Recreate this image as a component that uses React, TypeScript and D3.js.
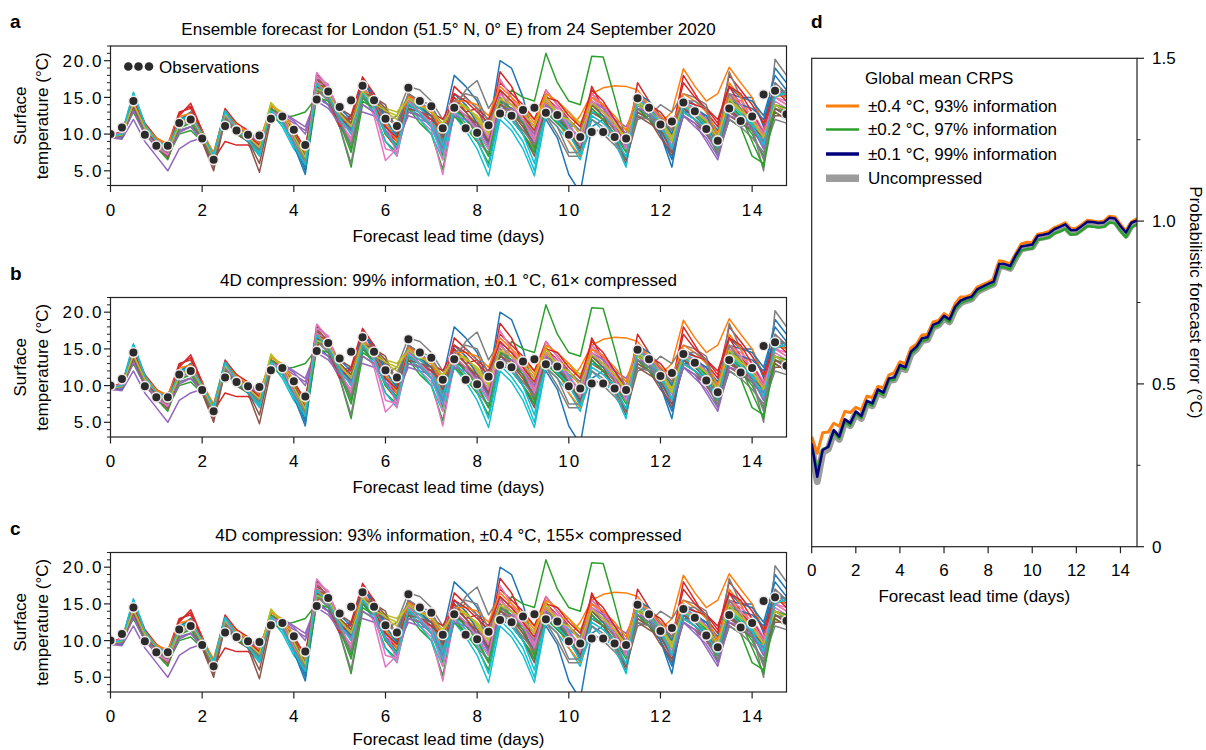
import React from 'react'
import * as d3 from 'd3'

// lead times, 6-hourly
const LEAD = d3.range(60).map(i => i * 0.25)

// London observations (°C)
const OBS = [
  10.0, 10.9, 14.5, 9.9, 8.4, 8.4, 11.5, 12.0, 9.4, 6.5,
  11.1, 10.5, 9.9, 9.8, 12.1, 12.4, 10.6, 8.5, 14.7, 15.8,
  13.7, 14.6, 16.6, 14.6, 12.1, 11.1, 16.3, 14.5, 13.8, 10.8,
  13.6, 10.8, 10.2, 11.2, 12.8, 12.5, 13.3, 13.6, 12.9, 12.6,
  9.9, 9.6, 10.3, 10.3, 9.6, 9.4, 14.9, 13.6, 11.3, 11.7,
  14.3, 13.1, 10.7, 9.1, 13.5, 11.8, 12.4, 15.4, 15.9, 12.7,
]

// ensemble members (°C), one row per member
const M00 = [9.8, 10.0, 15.5, 11.0, 8.8, 8.0, 11.0, 12.5, 10.0, 7.0, 12.8, 11.0, 9.5, 8.5, 13.5, 12.0, 9.0, 5.0, 16.5, 15.5, 12.5, 10.5, 17.5, 14.5, 11.0, 10.5, 15.0, 14.0, 13.0, 11.0, 18.0, 16.5, 14.5, 10.5, 20.0, 19.0, 15.0, 9.0, 12.0, 9.5, 4.5, 2.0, 11.0, 12.0, 10.0, 8.0, 14.5, 13.0, 10.0, 5.5, 14.0, 13.5, 12.5, 10.5, 15.5, 15.0, 15.0, 11.0, 19.0, 17.0]
const M01 = [9.5, 9.8, 14.5, 11.5, 9.5, 8.5, 12.0, 13.0, 10.5, 7.0, 13.0, 11.5, 9.8, 8.0, 13.5, 12.5, 10.0, 6.0, 17.5, 16.0, 12.0, 9.0, 16.5, 14.0, 10.0, 8.5, 15.5, 13.5, 12.5, 9.5, 15.0, 13.5, 12.0, 9.0, 15.5, 14.0, 12.0, 9.5, 14.0, 12.0, 10.5, 12.5, 15.5, 16.3, 16.6, 16.5, 16.0, 14.0, 11.5, 13.0, 18.9, 16.5, 14.5, 15.5, 19.1, 17.0, 15.0, 11.5, 15.0, 14.0]
const M02 = [9.7, 10.2, 13.5, 10.5, 8.8, 7.0, 10.5, 11.0, 9.8, 6.8, 12.0, 10.0, 9.0, 8.0, 12.0, 12.2, 12.5, 13.0, 15.0, 14.0, 11.0, 5.5, 14.0, 13.0, 9.0, 7.5, 13.5, 11.5, 10.0, 5.2, 13.0, 11.0, 9.0, 7.5, 12.0, 16.0, 15.0, 14.5, 21.0, 17.0, 14.5, 14.0, 20.6, 20.5, 15.0, 9.0, 13.5, 12.0, 10.5, 9.0, 13.0, 12.0, 10.0, 8.0, 13.0, 12.0, 10.0, 7.0, 13.0, 12.0]
const M03 = [9.9, 10.0, 14.0, 11.0, 9.0, 8.0, 12.5, 14.2, 10.5, 6.5, 9.0, 8.5, 8.5, 7.5, 12.5, 12.0, 10.0, 7.0, 15.5, 16.0, 13.0, 11.0, 17.5, 15.0, 10.0, 8.0, 14.0, 13.5, 14.0, 10.0, 16.5, 15.0, 13.5, 10.0, 18.5, 16.5, 13.0, 11.0, 15.0, 13.5, 11.0, 9.0, 16.5, 13.5, 10.5, 8.0, 17.0, 14.5, 12.0, 10.0, 18.0, 15.5, 13.0, 11.0, 18.0, 16.0, 14.0, 11.5, 16.5, 15.0]
const M04 = [9.5, 9.3, 12.0, 9.0, 7.0, 5.0, 8.0, 9.0, 9.5, 7.0, 12.0, 10.0, 9.5, 8.5, 13.0, 13.0, 12.0, 11.0, 15.0, 14.0, 12.0, 12.5, 13.0, 12.5, 11.0, 9.0, 12.5, 12.0, 11.5, 9.0, 13.0, 12.5, 11.5, 9.5, 14.0, 13.0, 12.0, 9.0, 13.0, 11.5, 10.0, 8.5, 15.0, 14.0, 12.0, 11.0, 14.0, 13.0, 11.5, 9.5, 13.5, 12.0, 10.0, 7.5, 12.0, 11.0, 11.5, 10.0, 13.5, 12.5]
const M05 = [9.7, 9.5, 14.0, 10.5, 8.5, 7.0, 11.0, 12.0, 9.0, 5.0, 12.0, 10.0, 9.0, 4.8, 12.0, 12.0, 10.0, 7.5, 18.2, 16.5, 12.5, 11.0, 16.0, 15.0, 14.0, 10.0, 13.5, 12.5, 12.0, 8.5, 14.0, 12.0, 10.5, 8.0, 13.5, 12.0, 10.0, 7.0, 14.0, 12.0, 10.0, 7.5, 13.5, 12.0, 9.0, 6.0, 13.0, 12.0, 10.0, 7.0, 12.5, 11.5, 10.0, 8.0, 12.5, 11.5, 10.5, 8.5, 13.0, 12.0]
const M06 = [9.6, 10.3, 14.5, 10.5, 8.0, 7.5, 11.0, 12.5, 10.0, 6.5, 12.5, 11.0, 9.5, 8.5, 13.0, 12.0, 9.0, 6.5, 18.4, 16.5, 11.5, 9.5, 15.5, 12.5, 6.4, 8.0, 14.0, 12.0, 10.5, 4.5, 13.0, 11.5, 9.5, 7.0, 16.0, 14.5, 13.0, 10.0, 15.0, 13.0, 11.0, 9.5, 15.0, 13.5, 11.0, 9.0, 14.0, 13.0, 11.0, 8.5, 13.5, 13.0, 12.0, 9.0, 14.5, 13.5, 12.0, 9.5, 14.5, 13.5]
const M07 = [9.8, 9.9, 14.0, 10.0, 8.5, 7.5, 11.5, 12.0, 9.5, 6.0, 12.5, 10.5, 9.0, 7.5, 12.5, 11.5, 8.5, 6.0, 16.0, 14.5, 11.0, 6.0, 15.0, 14.0, 11.5, 12.5, 16.5, 16.0, 14.5, 12.0, 13.5, 16.0, 17.3, 13.5, 16.0, 13.0, 10.0, 8.0, 12.5, 10.0, 7.0, 7.0, 11.0, 10.0, 8.5, 6.5, 12.0, 12.5, 14.0, 13.0, 15.5, 15.0, 14.0, 9.0, 18.5, 15.0, 11.0, 5.0, 20.2, 18.0]
const M08 = [9.7, 10.0, 14.5, 11.0, 9.0, 7.5, 11.5, 13.0, 10.0, 6.5, 13.0, 11.0, 9.5, 8.0, 14.3, 12.5, 10.0, 7.0, 16.0, 15.0, 12.5, 10.5, 15.5, 14.0, 13.0, 12.0, 14.5, 14.0, 13.5, 11.0, 14.0, 13.5, 12.5, 10.5, 15.0, 14.5, 13.5, 12.0, 15.5, 12.0, 11.0, 9.0, 14.0, 13.0, 11.5, 10.0, 15.0, 13.5, 12.0, 10.0, 14.0, 13.0, 12.0, 10.0, 15.0, 13.5, 12.5, 10.0, 14.0, 13.5]
const M09 = [9.6, 10.1, 15.7, 11.5, 9.0, 8.0, 11.5, 12.5, 10.0, 7.0, 13.0, 10.5, 9.0, 7.0, 13.0, 11.0, 8.0, 6.0, 16.5, 15.0, 11.5, 8.5, 15.0, 13.0, 9.0, 7.0, 14.0, 12.0, 10.0, 6.5, 12.5, 10.5, 8.0, 4.3, 12.0, 10.5, 8.0, 4.3, 12.5, 11.0, 9.0, 6.5, 12.0, 10.5, 9.0, 5.5, 15.0, 14.0, 12.0, 8.0, 14.5, 13.5, 11.0, 8.0, 15.0, 13.0, 11.0, 8.0, 15.5, 15.0]
const M10 = [9.8, 10.0, 15.0, 11.0, 9.0, 8.5, 11.5, 12.0, 9.5, 7.0, 12.5, 10.5, 9.0, 8.0, 13.0, 12.0, 8.5, 4.5, 15.5, 14.0, 13.5, 12.0, 17.0, 15.5, 12.5, 11.0, 15.5, 14.5, 13.0, 10.0, 13.5, 12.5, 10.5, 8.0, 13.0, 12.0, 10.0, 7.5, 14.5, 12.5, 10.5, 8.0, 13.0, 12.5, 11.0, 9.5, 13.5, 12.5, 10.0, 6.5, 13.0, 13.0, 12.5, 9.5, 16.5, 15.0, 14.5, 12.5, 18.0, 16.0]
const M11 = [9.4, 9.6, 15.0, 11.0, 9.3, 8.8, 12.0, 12.5, 10.0, 7.5, 13.2, 11.5, 10.0, 8.5, 13.5, 12.5, 9.5, 6.0, 17.0, 16.5, 13.0, 10.0, 16.0, 14.5, 12.0, 9.5, 15.0, 14.0, 12.5, 8.5, 14.5, 13.0, 11.5, 8.5, 15.0, 13.0, 11.0, 8.0, 14.5, 12.0, 9.0, 7.0, 13.0, 12.0, 10.0, 8.5, 14.5, 13.0, 11.0, 8.0, 14.0, 13.0, 11.5, 8.5, 17.0, 15.0, 12.0, 9.0, 15.0, 15.5]
const M12 = [9.6, 10.0, 13.0, 10.0, 8.5, 7.0, 10.0, 10.5, 9.0, 7.0, 12.0, 10.5, 9.5, 8.0, 12.5, 11.5, 9.0, 5.5, 15.0, 14.5, 12.0, 8.0, 14.5, 13.5, 11.0, 10.0, 13.0, 12.5, 11.0, 8.0, 12.5, 11.0, 9.0, 6.0, 13.5, 12.0, 10.0, 7.5, 13.0, 11.5, 10.0, 8.0, 14.0, 13.0, 11.5, 9.5, 14.0, 13.5, 12.0, 9.5, 13.5, 12.5, 11.0, 7.0, 12.0, 11.0, 7.0, 6.0, 14.0, 13.5]
const M13 = [10.0, 10.2, 14.8, 11.5, 9.5, 8.5, 13.0, 13.5, 10.5, 7.0, 13.5, 11.5, 10.5, 9.0, 13.5, 12.0, 9.0, 6.5, 17.0, 16.0, 12.0, 12.0, 16.5, 14.5, 10.5, 9.0, 15.5, 14.0, 13.0, 12.0, 15.0, 13.0, 13.5, 12.0, 17.0, 15.5, 14.0, 12.0, 16.0, 14.0, 12.0, 10.0, 15.5, 14.0, 11.0, 9.0, 15.0, 13.5, 12.5, 10.5, 17.0, 15.0, 13.5, 11.5, 16.5, 14.0, 12.0, 10.5, 17.0, 15.5]
const M14 = [9.5, 9.8, 13.5, 10.5, 8.0, 7.0, 10.5, 11.0, 9.0, 6.5, 11.5, 10.5, 9.5, 8.0, 13.5, 12.5, 11.5, 10.5, 15.0, 14.0, 11.0, 9.0, 15.0, 13.5, 10.5, 8.5, 14.0, 13.0, 11.5, 8.0, 13.5, 12.5, 11.0, 9.0, 14.5, 14.0, 13.0, 11.0, 14.5, 13.0, 11.5, 10.5, 14.5, 13.5, 12.0, 10.0, 14.0, 12.5, 10.5, 7.5, 12.5, 11.0, 9.5, 7.0, 13.0, 12.5, 11.0, 8.0, 13.5, 12.5]
const M15 = [9.9, 10.2, 14.2, 10.8, 8.8, 7.8, 11.5, 12.8, 10.0, 6.8, 12.8, 11.0, 10.0, 8.8, 13.5, 12.5, 10.5, 8.0, 17.5, 15.5, 13.5, 12.5, 16.0, 15.0, 13.0, 11.0, 14.5, 13.5, 12.5, 10.0, 14.5, 13.0, 11.0, 9.0, 14.0, 13.0, 11.5, 9.5, 13.5, 12.5, 11.0, 9.5, 13.0, 12.0, 10.0, 6.5, 13.0, 12.0, 9.5, 7.5, 13.0, 12.0, 10.5, 8.5, 13.0, 12.0, 10.5, 9.0, 12.5, 12.5]
const M16 = [9.7, 10.0, 14.0, 10.5, 8.5, 7.0, 11.0, 12.5, 9.5, 6.5, 12.5, 11.0, 9.5, 8.5, 13.5, 12.0, 9.5, 6.0, 17.0, 16.5, 13.0, 10.0, 16.5, 14.5, 12.0, 7.0, 15.0, 14.0, 13.5, 11.0, 15.5, 14.0, 12.0, 9.5, 17.5, 15.0, 12.5, 9.5, 16.0, 14.0, 11.5, 9.0, 15.5, 14.0, 11.5, 9.5, 15.5, 14.0, 12.0, 9.0, 14.0, 13.0, 11.5, 8.5, 15.5, 14.5, 13.0, 10.5, 15.0, 14.5]
const M17 = [9.5, 9.7, 14.5, 10.5, 8.5, 7.5, 11.0, 11.5, 9.5, 6.5, 12.0, 10.5, 9.5, 8.0, 13.0, 12.0, 9.0, 6.5, 16.5, 15.0, 12.5, 10.5, 15.5, 14.0, 12.5, 11.0, 14.0, 13.5, 13.5, 9.0, 14.0, 15.0, 13.5, 10.0, 14.5, 12.0, 10.5, 9.0, 13.5, 13.0, 12.0, 10.5, 14.0, 12.5, 10.5, 8.5, 13.5, 12.5, 11.0, 9.0, 13.0, 12.0, 10.5, 7.5, 12.0, 11.0, 9.5, 7.5, 12.0, 11.5]
const M18 = [9.8, 10.1, 14.0, 10.8, 9.0, 8.0, 11.0, 12.0, 10.0, 7.2, 12.5, 10.8, 9.8, 8.5, 14.0, 12.5, 9.5, 6.5, 16.5, 16.0, 13.0, 11.5, 16.0, 14.5, 13.5, 13.0, 15.0, 13.5, 13.0, 11.5, 14.0, 14.0, 12.0, 10.0, 14.5, 13.5, 12.5, 10.0, 14.5, 13.0, 13.0, 11.5, 14.5, 13.0, 11.5, 9.0, 14.0, 13.0, 11.5, 9.0, 14.0, 13.0, 11.5, 9.0, 14.5, 13.0, 11.5, 9.0, 14.0, 13.0]
const M19 = [9.5, 9.9, 15.3, 11.2, 9.2, 8.2, 12.0, 12.8, 10.2, 7.2, 13.2, 11.2, 9.5, 7.5, 13.5, 12.0, 9.0, 5.5, 17.0, 15.5, 13.0, 11.5, 16.0, 14.5, 11.5, 9.5, 14.5, 13.5, 12.0, 8.5, 14.0, 12.5, 10.5, 7.0, 13.5, 12.0, 10.0, 6.0, 14.0, 12.5, 11.5, 8.0, 13.0, 12.5, 11.0, 8.0, 14.5, 13.0, 11.0, 8.0, 13.0, 12.0, 11.0, 8.5, 13.5, 12.5, 11.5, 9.0, 15.0, 16.0]
const M20 = [9.6, 9.5, 14.8, 10.8, 8.6, 7.8, 11.8, 13.0, 10.2, 6.8, 12.5, 10.8, 9.2, 8.2, 13.2, 11.8, 9.2, 5.5, 16.8, 15.2, 12.2, 10.8, 16.8, 15.5, 12.0, 9.8, 14.8, 13.8, 12.5, 9.5, 15.5, 14.0, 11.5, 8.5, 14.5, 13.5, 11.5, 8.5, 13.5, 12.5, 10.0, 7.5, 14.0, 13.0, 11.0, 8.0, 15.5, 14.5, 12.5, 10.0, 15.0, 14.0, 12.0, 9.5, 14.5, 14.0, 13.5, 12.0, 16.5, 15.5]
const M21 = [9.8, 10.3, 14.6, 11.2, 9.4, 8.6, 12.4, 12.8, 10.4, 7.4, 12.8, 11.3, 10.2, 8.8, 13.8, 13.0, 10.8, 7.5, 16.8, 15.8, 12.8, 11.5, 16.2, 14.8, 11.5, 9.0, 15.2, 14.2, 13.0, 10.5, 14.5, 14.5, 14.0, 12.5, 16.5, 15.0, 13.5, 11.5, 15.5, 14.5, 13.0, 11.0, 15.0, 14.0, 12.5, 10.5, 15.5, 14.0, 12.5, 11.0, 15.5, 14.5, 13.0, 10.0, 15.5, 14.0, 12.5, 10.0, 15.5, 15.0]
const M22 = [9.9, 10.0, 13.8, 10.2, 8.2, 6.5, 10.8, 11.5, 9.2, 6.2, 12.2, 10.2, 9.2, 7.8, 13.5, 12.0, 9.5, 6.5, 16.0, 15.0, 11.5, 7.5, 15.0, 13.5, 10.0, 8.5, 14.0, 13.0, 11.0, 7.0, 13.5, 12.0, 10.0, 7.0, 14.5, 13.5, 11.5, 8.0, 14.0, 12.5, 10.5, 8.5, 13.5, 12.0, 10.0, 7.5, 13.5, 12.0, 10.5, 8.0, 14.0, 13.0, 11.5, 8.0, 14.0, 12.5, 9.0, 5.5, 13.5, 13.0]
const M23 = [9.7, 10.4, 14.6, 11.0, 8.8, 7.6, 12.8, 13.8, 10.2, 6.8, 13.0, 11.0, 9.8, 8.5, 13.0, 12.2, 10.5, 8.0, 16.5, 15.0, 11.0, 12.5, 17.8, 15.5, 11.0, 9.5, 14.5, 13.0, 12.0, 10.5, 15.5, 14.5, 13.0, 11.5, 16.0, 14.5, 12.5, 10.5, 15.0, 14.5, 12.5, 11.0, 16.0, 14.5, 12.0, 9.5, 14.5, 14.0, 13.0, 11.0, 14.5, 14.0, 13.5, 12.0, 16.5, 15.5, 13.0, 10.0, 16.0, 14.5]
const M24 = [9.4, 9.6, 13.2, 10.0, 8.2, 7.2, 10.2, 11.0, 9.2, 7.0, 12.8, 11.0, 9.8, 9.0, 12.8, 12.8, 11.8, 10.0, 14.5, 13.5, 11.5, 10.5, 14.0, 13.0, 10.5, 8.0, 13.0, 12.5, 11.0, 7.5, 12.5, 12.0, 11.0, 8.5, 13.5, 13.5, 12.0, 10.0, 14.0, 12.5, 11.0, 9.0, 14.5, 13.0, 11.0, 8.5, 13.5, 13.0, 11.5, 8.0, 12.5, 11.5, 9.0, 6.5, 12.5, 12.0, 10.5, 9.0, 14.0, 13.0]
const M25 = [9.6, 9.8, 13.8, 10.2, 8.4, 6.8, 11.2, 12.2, 9.2, 5.5, 12.2, 10.5, 9.2, 6.0, 12.8, 12.2, 10.2, 7.0, 17.8, 16.0, 13.0, 11.5, 15.5, 15.2, 13.5, 10.5, 13.5, 13.0, 12.5, 9.5, 13.5, 12.5, 11.5, 9.0, 14.0, 13.0, 11.0, 8.5, 13.0, 12.0, 10.5, 8.0, 14.0, 12.5, 9.5, 6.5, 12.5, 11.5, 10.5, 8.0, 13.5, 12.5, 11.0, 8.5, 13.5, 12.0, 11.0, 9.5, 13.5, 12.5]
const M26 = [9.8, 10.2, 14.2, 10.6, 8.2, 7.2, 11.2, 12.2, 9.8, 6.8, 12.6, 10.8, 9.6, 8.2, 13.2, 12.2, 9.2, 6.2, 17.8, 16.8, 12.0, 9.0, 16.0, 13.5, 8.0, 7.5, 14.5, 13.0, 11.5, 6.5, 14.0, 12.5, 10.5, 8.0, 15.5, 14.0, 12.0, 9.0, 14.5, 13.5, 11.0, 8.5, 14.5, 13.0, 11.0, 8.0, 15.0, 13.5, 11.5, 8.0, 14.0, 13.5, 12.0, 9.5, 15.0, 14.0, 12.5, 10.0, 15.0, 14.0]
const M27 = [9.7, 9.8, 14.3, 10.3, 8.6, 7.6, 11.2, 11.8, 9.6, 6.4, 12.3, 10.6, 9.2, 7.8, 12.8, 11.8, 8.8, 6.2, 16.2, 14.8, 11.8, 8.5, 15.2, 14.2, 12.0, 11.5, 15.5, 14.5, 14.0, 11.0, 14.5, 15.5, 15.0, 11.5, 15.0, 12.5, 10.5, 8.5, 12.5, 11.0, 7.5, 7.5, 12.0, 11.0, 9.0, 7.0, 12.5, 12.0, 12.0, 10.5, 14.5, 14.5, 13.5, 8.0, 15.5, 13.5, 10.5, 6.5, 17.0, 15.5]
const M28 = [9.6, 9.9, 14.2, 10.9, 9.1, 7.8, 11.2, 12.5, 9.8, 6.9, 12.8, 11.0, 9.6, 8.2, 14.1, 12.8, 9.8, 6.8, 16.2, 15.5, 12.8, 11.0, 15.8, 14.2, 13.2, 12.5, 14.8, 13.8, 13.2, 11.2, 14.0, 13.8, 12.2, 10.2, 14.8, 14.0, 13.0, 11.0, 15.0, 12.5, 12.0, 10.0, 14.2, 13.0, 11.5, 9.5, 14.5, 13.2, 11.8, 9.5, 14.0, 13.0, 11.8, 9.5, 14.8, 13.2, 12.0, 9.5, 14.0, 13.2]
const M29 = [9.7, 10.0, 15.5, 11.3, 9.1, 8.1, 11.8, 12.6, 10.1, 7.1, 13.1, 10.8, 9.2, 7.2, 13.2, 11.5, 8.5, 5.8, 16.8, 15.2, 12.2, 10.0, 15.5, 13.8, 10.2, 8.2, 14.2, 12.8, 11.0, 7.5, 13.2, 11.5, 9.2, 5.5, 12.8, 11.2, 9.0, 5.0, 13.2, 11.8, 10.2, 7.2, 12.5, 11.5, 10.0, 6.8, 14.8, 13.5, 11.5, 8.0, 13.8, 12.8, 11.0, 8.2, 14.2, 12.8, 11.2, 8.5, 15.2, 15.5]
const MEMBERS = [M00, M01, M02, M03, M04, M05, M06, M07, M08, M09, M10, M11, M12, M13, M14, M15, M16, M17, M18, M19, M20, M21, M22, M23, M24, M25, M26, M27, M28, M29]

// global mean CRPS (°C)
const CRPS_04 = [0.338, 0.287, 0.350, 0.352, 0.379, 0.370, 0.415, 0.412, 0.428, 0.420, 0.462, 0.458, 0.492, 0.488, 0.527, 0.535, 0.568, 0.562, 0.610, 0.622, 0.650, 0.652, 0.690, 0.695, 0.716, 0.705, 0.746, 0.767, 0.768, 0.774, 0.797, 0.805, 0.812, 0.822, 0.878, 0.875, 0.868, 0.900, 0.930, 0.935, 0.934, 0.960, 0.963, 0.968, 0.980, 0.987, 0.995, 0.977, 0.978, 0.990, 1.003, 1.000, 0.997, 1.000, 1.015, 1.013, 0.990, 0.968, 0.998, 1.008]
const CRPS_02 = [0.310, 0.235, 0.300, 0.305, 0.350, 0.332, 0.383, 0.372, 0.408, 0.395, 0.440, 0.433, 0.475, 0.466, 0.510, 0.513, 0.550, 0.545, 0.592, 0.606, 0.632, 0.636, 0.673, 0.680, 0.701, 0.690, 0.728, 0.748, 0.755, 0.760, 0.782, 0.790, 0.798, 0.806, 0.858, 0.858, 0.852, 0.884, 0.910, 0.914, 0.916, 0.943, 0.946, 0.950, 0.962, 0.968, 0.976, 0.958, 0.960, 0.972, 0.985, 0.983, 0.980, 0.983, 0.996, 0.993, 0.970, 0.950, 0.980, 0.990]
const CRPS_01 = [0.317, 0.215, 0.297, 0.307, 0.358, 0.338, 0.391, 0.379, 0.415, 0.401, 0.448, 0.440, 0.483, 0.473, 0.517, 0.520, 0.558, 0.551, 0.599, 0.614, 0.640, 0.643, 0.681, 0.688, 0.709, 0.698, 0.737, 0.756, 0.763, 0.768, 0.790, 0.799, 0.807, 0.814, 0.868, 0.868, 0.862, 0.895, 0.922, 0.925, 0.928, 0.955, 0.958, 0.962, 0.975, 0.982, 0.990, 0.972, 0.973, 0.985, 0.998, 0.997, 0.994, 0.996, 1.010, 1.008, 0.985, 0.965, 0.995, 1.002]
const CRPS_RAW = [0.310, 0.200, 0.290, 0.300, 0.350, 0.330, 0.384, 0.372, 0.408, 0.394, 0.441, 0.433, 0.476, 0.466, 0.510, 0.513, 0.551, 0.544, 0.592, 0.607, 0.633, 0.636, 0.674, 0.681, 0.702, 0.691, 0.730, 0.749, 0.756, 0.761, 0.783, 0.792, 0.800, 0.807, 0.861, 0.861, 0.855, 0.888, 0.915, 0.918, 0.921, 0.948, 0.951, 0.955, 0.968, 0.975, 0.983, 0.965, 0.966, 0.978, 0.991, 0.990, 0.987, 0.989, 1.003, 1.001, 0.978, 0.958, 0.988, 0.995]

const TAB10 = ['#1f77b4', '#ff7f0e', '#2ca02c', '#d62728', '#9467bd', '#8c564b', '#e377c2', '#7f7f7f', '#bcbd22', '#17becf']
const FONT = '"Liberation Sans", Arial, Helvetica, sans-serif'
const FS = 17
const LS = 2 // tick label letter spacing in panels a-c

function PanelLabel({ x, y, text }: { x: number; y: number; text: string }) {
  return (
    <text x={x} y={y} fontFamily={FONT} fontWeight="bold" fontSize={19}>{text}</text>
  )
}

function EnsemblePanel({ top, label, title, legend }: { top: number; label: string; title: string; legend?: boolean }) {
  const left = 110.5
  const right = 786.5
  const height = 139.5
  const bottom = top + height
  const x = d3.scaleLinear().domain([0, 14.75]).range([left, right])
  const y = d3.scaleLinear().domain([3, 22]).range([bottom, top])
  const line = d3.line<number>().x((_, i) => x(LEAD[i])).y(d => y(d))
  const clipId = `clip-${label}`
  const minor = d3.range(3, 23).filter(v => v % 5 !== 0)
  const major = [5, 10, 15, 20]
  const xt = d3.range(0, 15, 2)
  const cy = (top + bottom) / 2
  return (
    <g fontFamily={FONT} fontSize={FS}>
      <PanelLabel x={10} y={top - 18} text={label} />
      <text x={(left + right) / 2} y={top - 11.5} textAnchor="middle">{title}</text>
      <defs>
        <clipPath id={clipId}>
          <rect x={left} y={top} width={right - left} height={height} />
        </clipPath>
      </defs>
      <g clipPath={`url(#${clipId})`}>
        {MEMBERS.map((m, i) => (
          <path key={i} d={line(m) ?? ''} fill="none" stroke={TAB10[i % 10]} strokeWidth={1.5} strokeLinejoin="round" />
        ))}
        {OBS.map((v, i) => (
          <circle key={i} cx={x(LEAD[i])} cy={y(v)} r={4.8} fill="#2b2b2b" stroke="#eee8e8" strokeWidth={1.6} />
        ))}
      </g>
      <rect x={left} y={top} width={right - left} height={height} fill="none" stroke="#222" strokeWidth={1.2} />
      {minor.map(v => (
        <line key={v} x1={left - 3.5} x2={left} y1={y(v)} y2={y(v)} stroke="#222" strokeWidth={1} />
      ))}
      {major.map(v => (
        <g key={v}>
          <line x1={left - 6.5} x2={left} y1={y(v)} y2={y(v)} stroke="#222" strokeWidth={1.2} />
          <text x={left - 9 + LS} y={y(v)} dy="0.36em" textAnchor="end" letterSpacing={LS}>{v.toFixed(1)}</text>
        </g>
      ))}
      {xt.map(v => (
        <g key={v}>
          <line x1={x(v)} x2={x(v)} y1={bottom} y2={bottom + 6.5} stroke="#222" strokeWidth={1.2} />
          <text x={x(v) + LS / 2} y={bottom + 30} textAnchor="middle" letterSpacing={LS}>{v}</text>
        </g>
      ))}
      <text x={(left + right) / 2} y={Math.min(bottom + 56, 744.5)} textAnchor="middle">Forecast lead time (days)</text>
      <text transform={`translate(26,${cy}) rotate(-90)`} textAnchor="middle">Surface</text>
      <text transform={`translate(48,${cy}) rotate(-90)`} textAnchor="middle">temperature (°C)</text>
      {legend && (
        <g>
          {[128.3, 138.5, 149].map((cx, i) => (
            <circle key={i} cx={cx} cy={top + 20.5} r={4.3} fill="#2b2b2b" />
          ))}
          <text x={159} y={top + 26.5}>Observations</text>
        </g>
      )}
    </g>
  )
}

function CrpsPanel() {
  const left = 811.7
  const right = 1137
  const top = 58.3
  const bottom = 546.7
  const x = d3.scaleLinear().domain([0, 14.75]).range([left, right])
  const y = d3.scaleLinear().domain([0, 1.5]).range([bottom, top])
  const line = d3.line<number>().x((_, i) => x(LEAD[i])).y(d => y(d))
  const series = [
    { data: CRPS_RAW, color: '#9c9c9c', width: 7 },
    { data: CRPS_04, color: '#ff7f0e', width: 3 },
    { data: CRPS_02, color: '#2ca02c', width: 2.5 },
    { data: CRPS_01, color: '#00007f', width: 2.5 },
  ]
  const legendRows = [
    { label: '±0.4 °C, 93% information', color: '#ff7f0e', width: 3 },
    { label: '±0.2 °C, 97% information', color: '#2ca02c', width: 2.5 },
    { label: '±0.1 °C, 99% information', color: '#00007f', width: 3.5 },
    { label: 'Uncompressed', color: '#9c9c9c', width: 7.5 },
  ]
  const legendY = [106, 129.5, 154, 178.3]
  return (
    <g fontFamily={FONT} fontSize={FS}>
      <PanelLabel x={811} y={28} text="d" />
      <defs>
        <clipPath id="clip-d">
          <rect x={left} y={top} width={right - left} height={bottom - top} />
        </clipPath>
      </defs>
      <g clipPath="url(#clip-d)">
        {series.map((s, i) => (
          <path key={i} d={line(s.data) ?? ''} fill="none" stroke={s.color} strokeWidth={s.width} strokeLinejoin="round" />
        ))}
      </g>
      <rect x={left} y={top} width={right - left} height={bottom - top} fill="none" stroke="#222" strokeWidth={1.2} />
      {[0.25, 0.75, 1.25].map(v => (
        <line key={v} x1={right} x2={right + 3.5} y1={y(v)} y2={y(v)} stroke="#222" strokeWidth={1} />
      ))}
      {[0, 0.5, 1.0, 1.5].map(v => (
        <g key={v}>
          <line x1={right} x2={right + 7} y1={y(v)} y2={y(v)} stroke="#222" strokeWidth={1.2} />
          <text x={right + 15} y={y(v)} dy="0.36em">{v === 0 ? '0' : v.toFixed(1)}</text>
        </g>
      ))}
      {d3.range(0, 15, 2).map(v => (
        <g key={v}>
          <line x1={x(v)} x2={x(v)} y1={bottom} y2={bottom + 6.5} stroke="#222" strokeWidth={1.2} />
          <text x={x(v)} y={bottom + 29} textAnchor="middle">{v}</text>
        </g>
      ))}
      <text x={(left + right) / 2} y={bottom + 55} textAnchor="middle">Forecast lead time (days)</text>
      <text transform={`translate(1190,${(top + bottom) / 2}) rotate(90)`} textAnchor="middle">Probabilistic forecast error (°C)</text>
      <text x={865} y={84}>Global mean CRPS</text>
      {legendRows.map((r, i) => (
        <g key={i}>
          <line x1={826} x2={859} y1={legendY[i]} y2={legendY[i]} stroke={r.color} strokeWidth={r.width} />
          <text x={868} y={legendY[i] + 5.5}>{r.label}</text>
        </g>
      ))}
    </g>
  )
}

export default function App() {
  return (
    <svg width={1206} height={750} style={{ position: 'absolute', left: 0, top: 0, background: '#fff' }}>
      <EnsemblePanel top={46} label="a" title="Ensemble forecast for London (51.5° N, 0° E) from 24 September 2020" legend />
      <EnsemblePanel top={297.5} label="b" title="4D compression: 99% information, ±0.1 °C, 61× compressed" />
      <EnsemblePanel top={552.5} label="c" title="4D compression: 93% information, ±0.4 °C, 155× compressed" />
      <CrpsPanel />
    </svg>
  )
}
